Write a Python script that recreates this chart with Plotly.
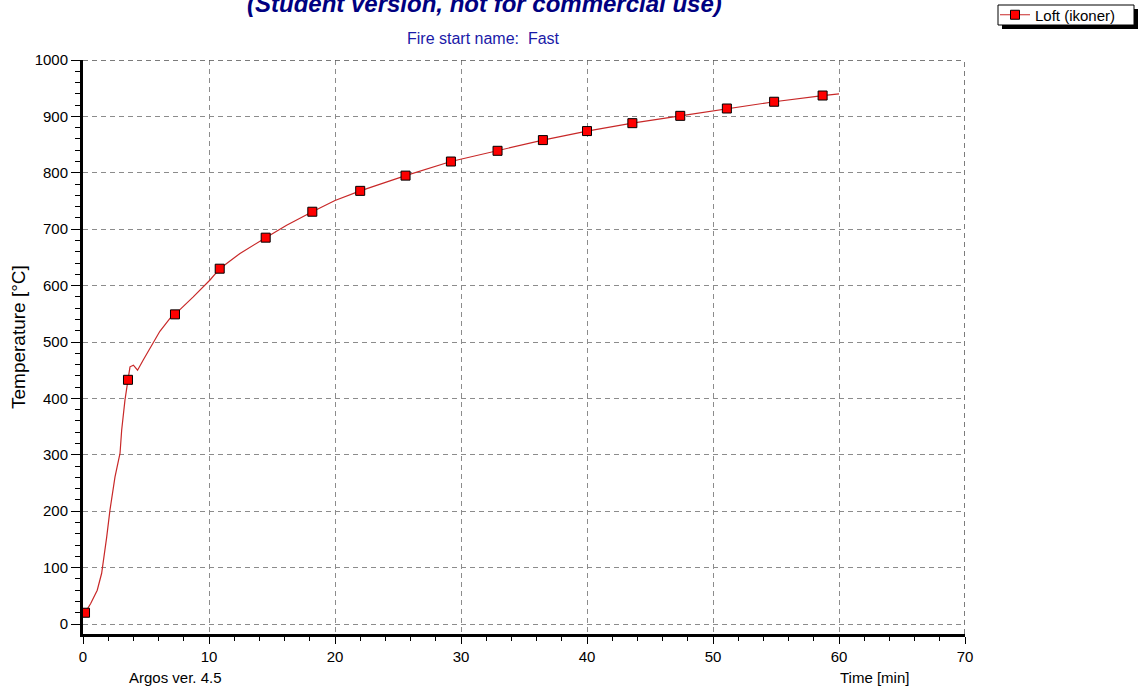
import plotly.graph_objects as go

# ---- data ----
line_time = [0.16, 0.6, 1.13, 1.48, 1.88, 2.14, 2.54, 2.94, 3.07, 3.33, 3.57, 3.73, 4.0, 4.33,
             4.78, 5.32, 6.1, 6.9, 7.3, 8.75, 10.08, 10.85, 12.46, 14.5, 16.16, 18.2, 20.0,
             22.0, 25.6, 29.2, 32.9, 36.5, 40.0, 43.6, 47.4, 51.1, 54.85, 58.7, 60.0]
line_temp = [20, 36, 60, 90, 154, 202, 261, 303, 344, 397, 433, 456, 459, 450,
             468, 489, 519, 542, 549, 580, 610, 630, 657, 685, 707, 731, 751,
             768, 795, 820, 839, 858, 874, 888, 901, 914, 926, 937, 940]

marker_time = [0.16, 3.57, 7.3, 10.85, 14.5, 18.2, 22.0, 25.6, 29.2, 32.9, 36.5,
               40.0, 43.6, 47.4, 51.1, 54.85, 58.7]
marker_temp = [20, 433, 549, 630, 685, 731, 768, 795, 820, 839, 858,
               874, 888, 901, 914, 926, 937]

series_name = "Loft (ikoner)"
title_text = "(Student version, not for commercial use)"
subtitle_text = "Fire start name:\u00a0\u00a0Fast"
x_title = "Time [min]"
y_title = "Temperature [°C]"
footer_text = "Argos ver. 4.5"

x_range = [0, 70]
y_range = [-17.7, 1000]

LINE_COLOR = "#c82828"
MARK_COLOR = "#ff0000"
FONT = "Arial, Liberation Sans, sans-serif"

fig = go.Figure()
fig.add_trace(go.Scatter(x=line_time, y=line_temp, mode="lines",
                         line=dict(color=LINE_COLOR, width=1.2),
                         showlegend=False, hoverinfo="skip"))
fig.add_trace(go.Scatter(x=marker_time, y=marker_temp, mode="markers",
                         marker=dict(symbol="square", size=9, color=MARK_COLOR,
                                     line=dict(color="black", width=1)),
                         showlegend=False))
# legend entry (line + square marker)
fig.add_trace(go.Scatter(x=[None], y=[None], mode="lines+markers", name=series_name,
                         line=dict(color=LINE_COLOR, width=1.2),
                         marker=dict(symbol="square", size=9, color=MARK_COLOR,
                                     line=dict(color="black", width=1))))

W, H = 1141, 692
L, R, T, B = 83, 176, 60, 58
pw, ph = W - L - R, H - T - B


def px(xp):
    return (xp - L) / pw


def py(yp):
    return (H - B - yp) / ph


grid = dict(showgrid=True, gridcolor="#8c8c8c", griddash="5px,4px", gridwidth=1)

fig.update_layout(
    width=W, height=H,
    margin=dict(l=L, r=R, t=T, b=B, pad=0, autoexpand=False),
    paper_bgcolor="white", plot_bgcolor="white",
    font=dict(family=FONT, size=15, color="black"),
    xaxis=dict(range=x_range, tick0=0, dtick=10, ticks="outside", ticklen=7,
               tickcolor="black", tickwidth=1, showline=True, linewidth=3,
               linecolor="black", zeroline=False,
               minor=dict(dtick=2, ticks="outside", ticklen=4, tickcolor="black",
                          showgrid=False),
               tickfont=dict(size=15, color="black"), **grid),
    yaxis=dict(range=y_range, tick0=0, dtick=100, ticks="outside", ticklen=9,
               tickcolor="black", tickwidth=1, showline=True, linewidth=3,
               linecolor="black", zeroline=False,
               minor=dict(dtick=20, ticks="outside", ticklen=5, tickcolor="black",
                          showgrid=False),
               tickfont=dict(size=15, color="black"), **grid),
    legend=dict(x=px(995), y=py(15), xanchor="left", yanchor="middle",
                bgcolor="rgba(0,0,0,0)", borderwidth=0,
                font=dict(size=15, color="black"), itemwidth=30,
                tracegroupgap=0),
    shapes=[
        # legend shadow and box
        dict(type="rect", xref="paper", yref="paper",
             x0=px(1002), x1=px(1138), y0=py(29), y1=py(9),
             fillcolor="black", line=dict(width=0), layer="above"),
        dict(type="rect", xref="paper", yref="paper",
             x0=px(998), x1=px(1134), y0=py(25), y1=py(5),
             fillcolor="white", line=dict(color="black", width=1), layer="above"),
        # top / right frame (dashed)
        dict(type="line", xref="x", yref="y", x0=x_range[0], x1=x_range[1],
             y0=y_range[1], y1=y_range[1], line=dict(color="#505050", width=1.5, dash="5px,4px")),
        dict(type="line", xref="x", yref="paper", x0=x_range[1], x1=x_range[1],
             y0=0, y1=1, line=dict(color="#505050", width=1.5, dash="5px,4px")),
    ],
    annotations=[
        dict(text="<b><i>" + title_text + "</i></b>", xref="paper", yref="paper",
             x=px(484), y=py(4), xanchor="center", yanchor="middle", showarrow=False,
             font=dict(size=24, color="#000080", family=FONT)),
        dict(text=subtitle_text, xref="paper", yref="paper", x=px(483), y=py(38),
             xanchor="center", yanchor="middle", showarrow=False,
             font=dict(size=16, color="#1a1aa8")),
        dict(text=footer_text, xref="paper", yref="paper", x=px(175), y=py(677),
             xanchor="center", yanchor="middle", showarrow=False,
             font=dict(size=15, color="black")),
        dict(text=x_title, xref="paper", yref="paper", x=px(874), y=py(677),
             xanchor="center", yanchor="middle", showarrow=False,
             font=dict(size=15, color="black")),
        dict(text=y_title, xref="paper", yref="paper", x=px(18), y=py(337),
             xanchor="center", yanchor="middle", showarrow=False, textangle=-90,
             font=dict(size=19, color="black")),
    ],
)

fig.write_html("out.html")
